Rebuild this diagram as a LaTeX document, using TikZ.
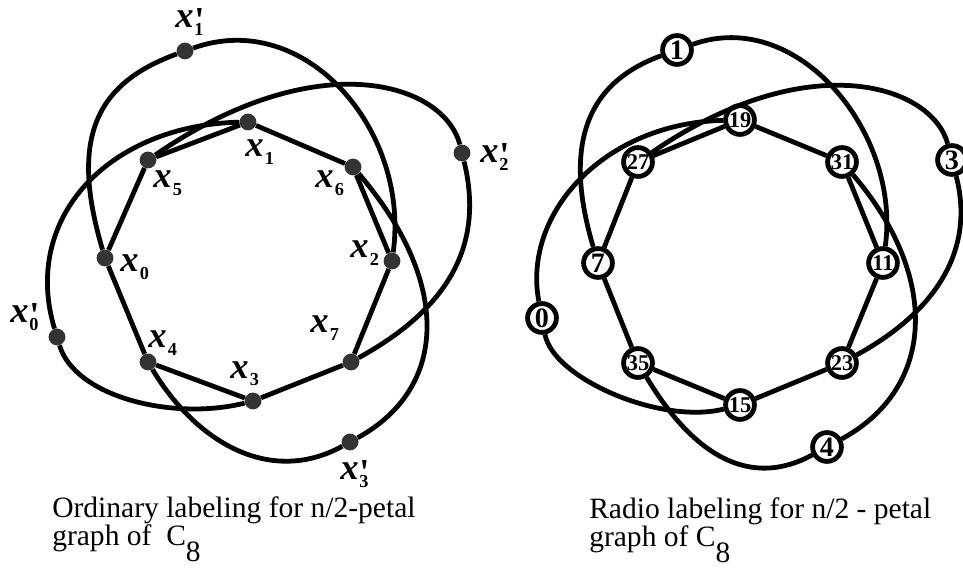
\documentclass[tikz,border=0pt]{standalone}
\usepackage{fontspec}
\setmainfont{Liberation Serif}
\newcommand{\xsub}[1]{{\fontsize{26}{26}\selectfont\bfseries\itshape x}\kern1pt\raisebox{-5.5pt}{\fontsize{13}{13}\selectfont\bfseries #1}}
\newcommand{\xpr}[1]{{\fontsize{26}{26}\selectfont\bfseries\itshape x}\kern0.5pt\rlap{\raisebox{-3.5pt}{\fontsize{26}{26}\selectfont\bfseries\textquotesingle}}\raisebox{-5.5pt}{\fontsize{13}{13}\selectfont\bfseries #1}}
\begin{document}
\begin{tikzpicture}[x=0.025cm, y=-0.025cm,
    cyc/.style={line width=3.4pt},
    dot/.style={circle, fill=black!80, minimum size=0.42cm, inner sep=0pt},
    vtx/.style={circle, draw, line width=3.4pt, fill=white, minimum size=0.72cm, inner sep=0pt, font=\fontsize{16}{16}\selectfont\bfseries},
    bigvtx/.style={vtx, font=\fontsize{20}{20}\selectfont\bfseries},
    lbl/.style={anchor=base west, inner sep=0pt},
    captext/.style={anchor=base west, inner sep=0pt, align=left, font=\fontsize{21}{19.5}\selectfont}]
    \useasboundingbox (0,0) rectangle (963,571);
    % ordinary labeling
    \node[dot] (x1) at (248,122) {}; \node[dot] (x6) at (353,167) {};
    \node[dot] (x2) at (392,261) {}; \node[dot] (x7) at (351,362) {};
    \node[dot] (x3) at (253,401) {}; \node[dot] (x4) at (148,362) {};
    \node[dot] (x0) at (105,258) {}; \node[dot] (x5) at (148,160) {};
    \node[dot] (x0p) at (57,337) {}; \node[dot] (x1p) at (185,51) {};
    \node[dot] (x2p) at (462,153) {}; \node[dot] (x3p) at (350,442) {};
    \draw[cyc] (x1) -- (x6) -- (x2) -- (x7) -- (x3) -- (x4) -- (x0) -- (x5) -- (x1);
    \draw[cyc] (x0) .. controls +(-35,-118) and +(-91,33) .. (x1p) .. controls +(120,-43) and +(18,-131) .. (x2);
    \draw[cyc] (x5) .. controls +(170,-117) and +(-18,-70) .. (x2p) .. controls +(22,90) and +(100,-55) .. (x7);
    \draw[cyc] (x1) .. controls +(-138,3) and +(-36,-120) .. (x0p) .. controls +(18,60) and +(-80,20) .. (x3);
    \draw[cyc] (x6) .. controls +(97,113) and +(100,-55) .. (x3p) .. controls +(-80,44) and +(48,80) .. (x4);
    \node[lbl] (lx1) at (245,157) {\xsub{1}};
    \node[lbl] (lx5) at (153,188) {\xsub{5}};
    \node[lbl] (lx6) at (315,188) {\xsub{6}};
    \node[lbl] (lx2) at (350,258) {\xsub{2}};
    \node[lbl] (lx0) at (120,272) {\xsub{0}};
    \node[lbl] (lx7) at (310,333) {\xsub{7}};
    \node[lbl] (lx4) at (148,348) {\xsub{4}};
    \node[lbl] (lx3) at (230,378) {\xsub{3}};
    \node[lbl] (lx0p) at (10,323) {\xpr{0}};
    \node[lbl] (lx1p) at (175,28) {\xpr{1}};
    \node[lbl] (lx2p) at (480,163) {\xpr{2}};
    \node[lbl] (lx3p) at (340,480) {\xpr{3}};
    % radio labeling
    \node[vtx] (r19) at (740,120) {19}; \node[vtx] (r31) at (842,162) {31};
    \node[vtx] (r11) at (883,263) {11}; \node[vtx] (r23) at (842,363) {23};
    \node[vtx] (r15) at (740,405) {15}; \node[vtx] (r35) at (638,363) {35};
    \node[bigvtx] (r7) at (598,263) {7}; \node[vtx] (r27) at (638,162) {27};
    \node[bigvtx] (r1) at (677,50) {1}; \node[bigvtx] (r3) at (952,160) {3};
    \node[bigvtx] (r0) at (542,318) {0}; \node[bigvtx] (r4) at (827,447) {4};
    \draw[cyc] (r19) -- (r31) -- (r11) -- (r23) -- (r15) -- (r35) -- (r7) -- (r27) -- (r19);
    \draw[cyc] (r7) .. controls +(-35,-118) and +(-91,33) .. (r1) .. controls +(120,-43) and +(18,-131) .. (r11);
    \draw[cyc] (r27) .. controls +(170,-117) and +(-20,-75) .. (r3) .. controls +(22,85) and +(100,-55) .. (r23);
    \draw[cyc] (r19) .. controls +(-135,3) and +(-20,-105) .. (r0) .. controls +(11,60) and +(-80,20) .. (r15);
    \draw[cyc] (r31) .. controls +(97,113) and +(110,-60) .. (r4) .. controls +(-85,46) and +(48,80) .. (r35);
    % captions
    \node[captext] (capl) at (52,545) {Ordinary labeling for n/2-petal\\graph of\ \ C\raisebox{-12pt}{8}};
    \node[captext] (capr) at (589,546) {Radio labeling for n/2 - petal\\graph of C\raisebox{-12pt}{8}};
\end{tikzpicture}
\end{document}
